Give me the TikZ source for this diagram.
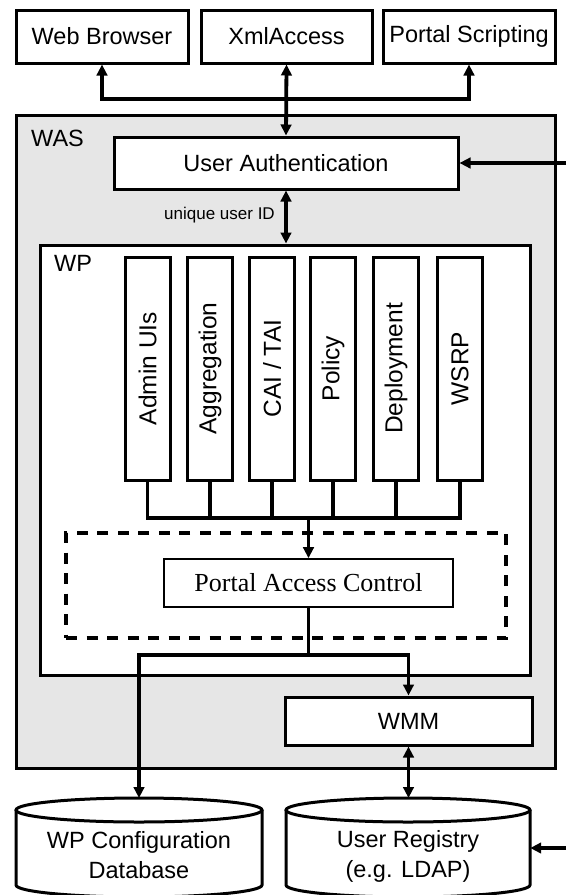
\documentclass[tikz,border=0pt]{standalone}
\usepackage{fontspec}
\setmainfont{Liberation Sans}
\newfontfamily\tmsfont{Liberation Serif}
\usetikzlibrary{arrows.meta}
\definecolor{wasgrey}{HTML}{E6E6E6}
\newcommand{\lab}{\fontsize{23.5}{30}\selectfont}
\newcommand{\vlab}{\fontsize{24.5}{28}\selectfont}
\begin{document}
\begin{tikzpicture}[x=1pt,y=-1pt,
  box/.style={draw, line width=3pt, fill=white, inner sep=0pt, font=\lab},
  vbox/.style={draw, line width=3pt, fill=white, inner sep=0pt, minimum width=45pt, minimum height=223pt, font=\vlab},
  conn/.style={line width=3.8pt},
  tri/.tip={Triangle[length=11pt,width=10.5pt]},
  ]
\useasboundingbox (0,0) rectangle (566,895);

% top clients
\node[box, minimum width=172pt, minimum height=53pt] (wb) at (102,36.5) {Web Browser};
\node[box, minimum width=171pt, minimum height=53pt] (xml) at (286.5,36.5) {XmlAccess};
\node[box, minimum width=172pt, minimum height=53pt] (ps) at (469,36.5) {Portal Scripting};

% WAS container
\node[draw, line width=3pt, fill=wasgrey, minimum width=539pt, minimum height=653pt, inner sep=0pt] (was) at (285.5,441.5) {};
\node[anchor=west, font=\lab, inner sep=0pt] (waslab) at (31,138) {WAS};

\node[box, minimum width=344pt, minimum height=52pt] (ua) at (286,163) {User Authentication};

% WP container
\node[draw, line width=3pt, fill=white, minimum width=490pt, minimum height=430pt, inner sep=0pt] (wp) at (285,460) {};
\node[anchor=west, font=\lab, inner sep=0pt] (wplab) at (54,263) {WP};

% vertical components
\node[vbox] (admin) at (147.5,368.5) {\rotatebox{90}{Admin UIs}};
\node[vbox] (aggr) at (210,368.5) {\rotatebox{90}{Aggregation}};
\node[vbox] (cai) at (272,368.5) {\rotatebox{90}{CAI / TAI}};
\node[vbox] (policy) at (333,368.5) {\rotatebox{90}{Policy}};
\node[vbox] (deploy) at (396,368.5) {\rotatebox{90}{Deployment}};
\node[vbox] (wsrp) at (460,368.5) {\rotatebox{90}{WSRP}};

% dashed group and PAC
\node[draw, dash pattern=on 11pt off 9.5pt, line width=3.8pt, fill=white, minimum width=440pt, minimum height=105pt, inner sep=0pt] (grp) at (286,585.5) {};
\node[draw, line width=1.6pt, fill=white, minimum width=289pt, minimum height=48pt, inner sep=0pt, font=\tmsfont\fontsize{26}{30}\selectfont] (pac) at (308.5,583) {Portal Access Control};

% WMM
\node[box, minimum width=247pt, minimum height=48pt] (wmm) at (408.5,721) {WMM};

% databases
\draw[line width=3pt, fill=white] (16,810) -- (16,885) arc[start angle=180, end angle=360, x radius=123pt, y radius=12pt] -- (262,810);
\draw[line width=3pt, fill=white] (139,810) ellipse[x radius=123pt, y radius=12pt];
\node[align=center, font=\lab, inner sep=0pt] (db) at (139,855) {WP Configuration\\Database};
\coordinate (dbtop) at (139,798);

\draw[line width=3pt, fill=white] (286,810) -- (286,885) arc[start angle=180, end angle=360, x radius=122pt, y radius=12pt] -- (530,810);
\draw[line width=3pt, fill=white] (408,810) ellipse[x radius=122pt, y radius=12pt];
\node[align=center, font=\lab, inner sep=0pt, minimum width=244pt] (ur) at (408,856) {User Registry\\(e.g. LDAP)};
\coordinate (urtop) at (408.5,798);

% connectors: clients
\coordinate (j1) at (286.5,99);
\draw[conn,-tri] (j1) -| (wb.south);
\draw[conn,-tri] (j1) -| (ps.south);
\draw[conn,tri-tri] (xml.south) -- (ua.north);

% external input to UA
\coordinate (e1) at (566,163);
\draw[conn,-tri] (e1) -- (ua.east);

% UA to WP
\draw[conn,tri-tri] (ua.south) -- (ua.south |- wp.north);
\node[anchor=east, font=\fontsize{17}{19}\selectfont, inner sep=0pt] (uid) at (275,215) {unique user ID};

% bus
\coordinate (bus) at (308.5,518);
\draw[conn] (admin.south) -- (admin.south |- bus) -- (wsrp.south |- bus) -- (wsrp.south);
\draw[conn] (aggr.south) -- (aggr.south |- bus);
\draw[conn] (cai.south) -- (cai.south |- bus);
\draw[conn] (policy.south) -- (policy.south |- bus);
\draw[conn] (deploy.south) -- (deploy.south |- bus);
\draw[conn,-tri] (bus) -- (pac.north);

% PAC outputs
\coordinate (split) at (308.5,655);
\draw[conn] (pac.south) -- (split);
\draw[conn,-tri] (split) -| (wmm.north);
\draw[conn,-tri] (split) -| (dbtop);

% WMM to registry
\draw[conn,tri-tri] (wmm.south) -- (urtop);

% external input to registry
\coordinate (e2) at (566,848);
\draw[conn,-tri] (e2) -- (e2 -| ur.east);
\end{tikzpicture}
\end{document}
